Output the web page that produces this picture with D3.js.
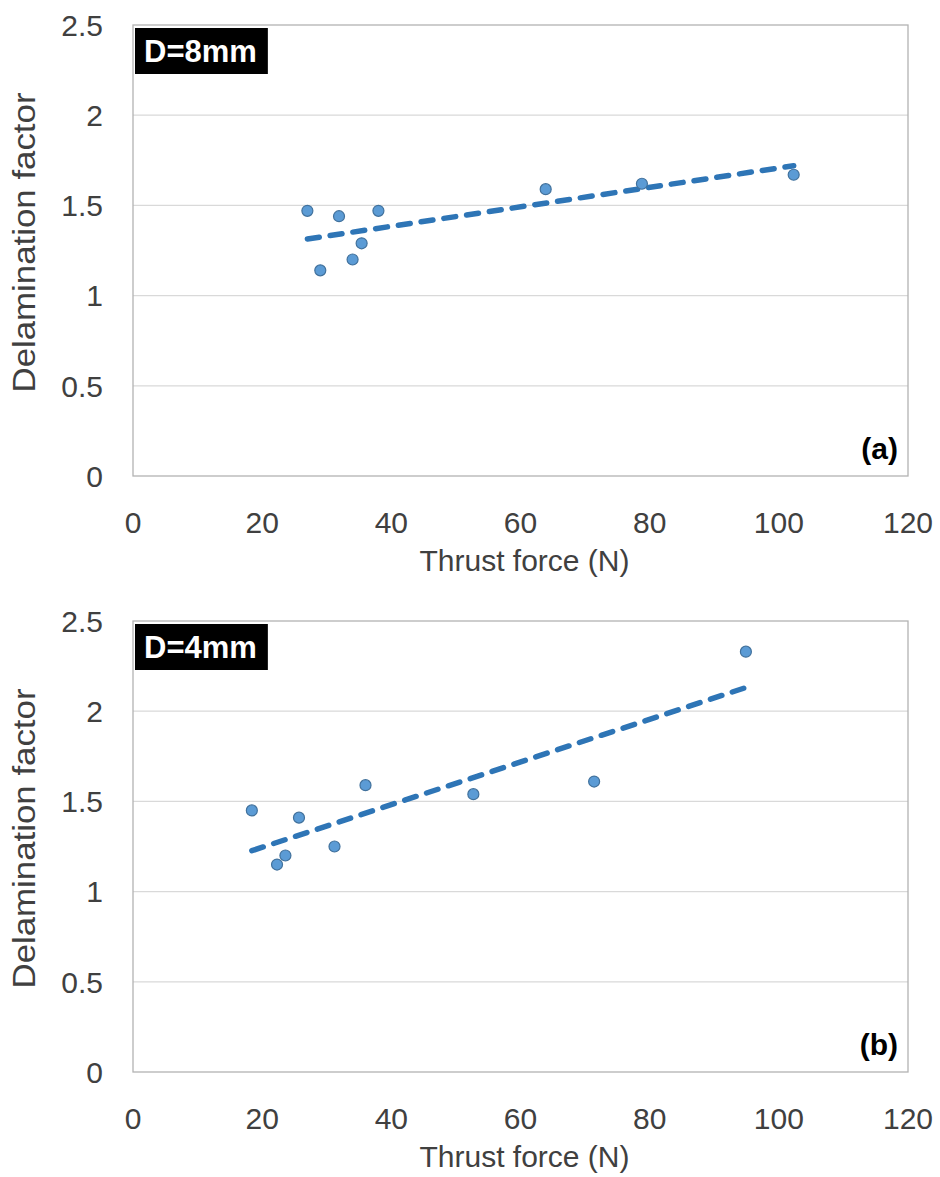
<!DOCTYPE html>
<html lang="en">
<head>
<meta charset="utf-8">
<title>Delamination factor vs thrust force</title>
<script src="https://d3js.org/d3.v7.min.js"></script>
<style>
  body { margin: 0; background: #fff; }
  svg { display: block; font-family: "Liberation Sans", Arial, sans-serif; }
  .grid line { stroke: #d9d9d9; stroke-width: 1.3px; }
  .frame { fill: none; stroke: #b3b3b3; stroke-width: 1.3px; }
  .tick-label { fill: #404040; font-size: 30px; }
  .axis-title { fill: #404040; font-size: 30px; }
  .tag { fill: #000; font-size: 30px; font-weight: bold; }
  .dia { fill: #fff; font-size: 31px; font-weight: bold; }
  .pt { fill: #5b9bd5; stroke: #41719c; stroke-width: 1.2px; }
  .trend { fill: none; stroke: #2e75b6; stroke-width: 5.5px; stroke-dasharray: 12 11; stroke-linecap: round; }
</style>
</head>
<body>
<script>
// axis ticks
var xTicks = [0, 20, 40, 60, 80, 100, 120];
var yTicks = [0, 0.5, 1, 1.5, 2, 2.5];

// panel (a) D=8mm
var forceA = [27.0, 31.9, 38.0, 35.4, 34.0, 29.0, 63.9, 78.8, 102.3];
var delamA = [1.47, 1.44, 1.47, 1.29, 1.20, 1.14, 1.59, 1.62, 1.67];

// panel (b) D=4mm
var forceB = [18.4, 36.0, 25.7, 31.2, 23.6, 22.3, 94.9, 71.4, 52.7];
var delamB = [1.45, 1.59, 1.41, 1.25, 1.20, 1.15, 2.33, 1.61, 1.54];

var panels = [
  { dia: "D=8mm", tag: "(a)", xs: forceA, ys: delamA, top: 25 },
  { dia: "D=4mm", tag: "(b)", xs: forceB, ys: delamB, top: 621 }
];

var W = 940, H = 1177;
var left = 133, pw = 775, ph = 451;

var svg = d3.select("body").append("svg")
  .attr("width", W)
  .attr("height", H);

var x = d3.scaleLinear().domain([0, 120]).range([0, pw]);
var y = d3.scaleLinear().domain([0, 2.5]).range([ph, 0]);

// least squares line, like the spreadsheet trendline
function fit(xs, ys) {
  var mx = d3.mean(xs), my = d3.mean(ys);
  var sxy = d3.sum(xs, function(v, i) { return (v - mx) * (ys[i] - my); });
  var sxx = d3.sum(xs, function(v) { return (v - mx) * (v - mx); });
  var b = sxy / sxx;
  return { a: my - b * mx, b: b };
}

panels.forEach(function(p) {
  var g = svg.append("g").attr("transform", "translate(" + left + "," + p.top + ")");

  g.append("g").attr("class", "grid")
    .selectAll("line")
    .data(yTicks.filter(function(d) { return d > 0 && d < 2.5; }))
    .enter().append("line")
    .attr("x1", 0).attr("x2", pw)
    .attr("y1", function(d) { return y(d); })
    .attr("y2", function(d) { return y(d); });

  g.append("rect").attr("class", "frame")
    .attr("width", pw).attr("height", ph);

  // y tick labels
  g.selectAll(".ylab")
    .data(yTicks)
    .enter().append("text")
    .attr("class", "tick-label")
    .attr("x", -30)
    .attr("y", function(d) { return y(d); })
    .attr("dy", "0.36em")
    .attr("text-anchor", "end")
    .text(function(d) { return String(d); });

  // x tick labels
  g.selectAll(".xlab")
    .data(xTicks)
    .enter().append("text")
    .attr("class", "tick-label")
    .attr("x", function(d) { return x(d); })
    .attr("y", ph + 57)
    .attr("text-anchor", "middle")
    .text(function(d) { return d; });

  g.append("text").attr("class", "axis-title")
    .attr("x", pw / 2 + 4)
    .attr("y", ph + 95)
    .attr("text-anchor", "middle")
    .text("Thrust force (N)");

  g.append("text").attr("class", "axis-title")
    .attr("transform", "translate(" + (35 - left) + "," + (ph / 2 - 8) + ") rotate(-90)")
    .attr("text-anchor", "middle")
    .attr("textLength", 300)
    .attr("lengthAdjust", "spacingAndGlyphs")
    .style("font-size", "32px")
    .text("Delamination factor");

  // trendline over the data range
  var f = fit(p.xs, p.ys);
  var ext = d3.extent(p.xs);
  g.append("path").attr("class", "trend")
    .attr("d", d3.line()
      .x(function(d) { return x(d); })
      .y(function(d) { return y(f.a + f.b * d); })(ext));

  g.selectAll(".pt")
    .data(p.xs)
    .enter().append("circle")
    .attr("class", "pt")
    .attr("cx", function(d) { return x(d); })
    .attr("cy", function(d, i) { return y(p.ys[i]); })
    .attr("r", 5.5);

  // diameter label, white on black
  var lab = g.append("g").attr("transform", "translate(2,3)");
  var bg = lab.append("rect").attr("fill", "#000");
  var t = lab.append("text").attr("class", "dia")
    .attr("x", 9).attr("y", 34)
    .text(p.dia);
  var bb = t.node().getBBox();
  bg.attr("width", bb.width + 20).attr("height", 46);

  g.append("text").attr("class", "tag")
    .attr("x", pw - 10)
    .attr("y", ph - 17)
    .attr("text-anchor", "end")
    .text(p.tag);
});
</script>
</body>
</html>
